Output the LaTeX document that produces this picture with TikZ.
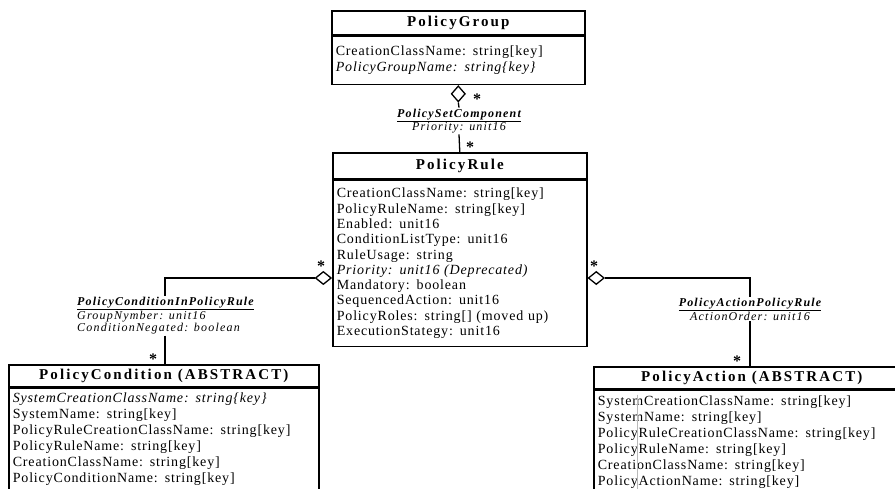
\documentclass[tikz,border=0pt]{standalone}
\usepackage{fontspec}
\setmainfont{Liberation Serif}
\newfontfamily\spc[LetterSpace=10]{Liberation Serif}
\newfontfamily\spcattr[LetterSpace=6]{Liberation Serif}
\newfontfamily\spcwide[LetterSpace=14]{Liberation Serif}
\usetikzlibrary{shapes.geometric}

\newcommand\ttlfont{\spcwide\bfseries\fontsize{15}{18}\selectfont}
\newcommand\assocfont{\spc\itshape\fontsize{12}{12.5}\selectfont}

\begin{document}
\begin{tikzpicture}[x=1pt,y=-1pt,
  head/.style={draw, line width=1.6pt, inner sep=0pt, font=\ttlfont, anchor=north west},
  body/.style={draw, line width=1.6pt, inner xsep=4pt, inner ysep=0pt, anchor=north,
               align=left, font=\spcattr\fontsize{14}{#1}\selectfont},
  body/.default=16,
  agg/.style={diamond, draw, line width=1.3pt, fill=white, inner sep=0pt,
              minimum width=16pt, minimum height=13pt},
  aggv/.style={agg, minimum width=14pt, minimum height=16pt},
  link/.style={line width=1.3pt},
  mult/.style={font=\bfseries\fontsize{16}{16}\selectfont, inner sep=0pt},
  assoc/.style={font=\assocfont, inner sep=1pt}
]
\useasboundingbox (0,0) rectangle (895,489);
\clip (0,0) rectangle (895,489);

% PolicyGroup
\node[head, minimum width=253pt, minimum height=24pt] (grpH) at (331,10) {PolicyGroup};
\node[body, text width=245pt, minimum height=48pt] (grp) at (grpH.south)
  {CreationClassName: string[key]\\ \textit{PolicyGroupName: string\{key\}}};

% PolicyRule
\node[head, minimum width=254pt, minimum height=26pt] (ruleH) at (332,152) {PolicyRule};
\node[body=15.3, text width=246pt, minimum height=166pt] (rule) at (ruleH.south)
  {CreationClassName: string[key]\\
   PolicyRuleName: string[key]\\
   Enabled: unit16\\
   ConditionListType: unit16\\
   RuleUsage: string\\
   \textit{Priority: unit16 (Deprecated)}\\
   Mandatory: boolean\\
   SequencedAction: unit16\\
   PolicyRoles: string[] (moved up)\\
   ExecutionStategy: unit16};

% PolicyCondition
\node[head, minimum width=310pt, minimum height=22pt] (condH) at (8,364) {PolicyCondition (ABSTRACT)};
\node[body, text width=302pt, minimum height=101pt] (cond) at (condH.south)
  {\textit{SystemCreationClassName: string\{key\}}\\
   SystemName: string[key]\\
   PolicyRuleCreationClassName: string[key]\\
   PolicyRuleName: string[key]\\
   CreationClassName: string[key]\\
   PolicyConditionName: string[key]};

% PolicyAction
\node[head, minimum width=316pt, minimum height=22pt] (actH) at (593,366) {PolicyAction (ABSTRACT)};
\node[body, text width=308pt, minimum height=103pt] (act) at (actH.south)
  {SystemCreationClassName: string[key]\\
   SystemName: string[key]\\
   PolicyRuleCreationClassName: string[key]\\
   PolicyRuleName: string[key]\\
   CreationClassName: string[key]\\
   PolicyActionName: string[key]};
\draw[gray!55, line width=0.5pt] (act.north west) ++(44,5) -- ++(0,110);

% PolicySetComponent
\node[aggv, anchor=north] (dtop) at (grp.south) {};
\node[assoc, align=center] (psc) at (459,121)
  {\underline{\bfseries PolicySetComponent}\\Priority: unit16};
\draw[link] (dtop.south) -- (psc.north);
\draw[link] (psc.south) -- (ruleH.north);
\node[mult] (m1) at (477,99) {*};
\node[mult] (m2) at (470,147) {*};

% PolicyConditionInPolicyRule
\coordinate (yl) at (0,278);
\coordinate (jl) at (165,278);
\node[agg, anchor=east] (dl) at (rule.west |- yl) {};
\node[assoc, align=left, anchor=north west] (pcr) at (76,296)
  {\underline{\bfseries PolicyConditionInPolicyRule}\\GroupNymber: unit16\\ConditionNegated: boolean};
\draw[link] (dl.west) -- (jl) -- (jl |- pcr.north);
\draw[link] (jl |- pcr.south) -- (jl |- condH.north);
\node[mult] (m3) at (321,266) {*};
\node[mult] (m4) at (153,359) {*};

% PolicyActionPolicyRule
\coordinate (jr) at (750,278);
\node[agg, anchor=west] (dr) at (rule.east |- yl) {};
\node[assoc, align=center] (pap) at (750,309)
  {\underline{\bfseries PolicyActionPolicyRule}\\ActionOrder: unit16};
\draw[link] (dr.east) -- (jr) -- (jr |- pap.north);
\draw[link] (jr |- pap.south) -- (jr |- actH.north);
\node[mult] (m5) at (594,266) {*};
\node[mult] (m6) at (737,361) {*};
\end{tikzpicture}
\end{document}
